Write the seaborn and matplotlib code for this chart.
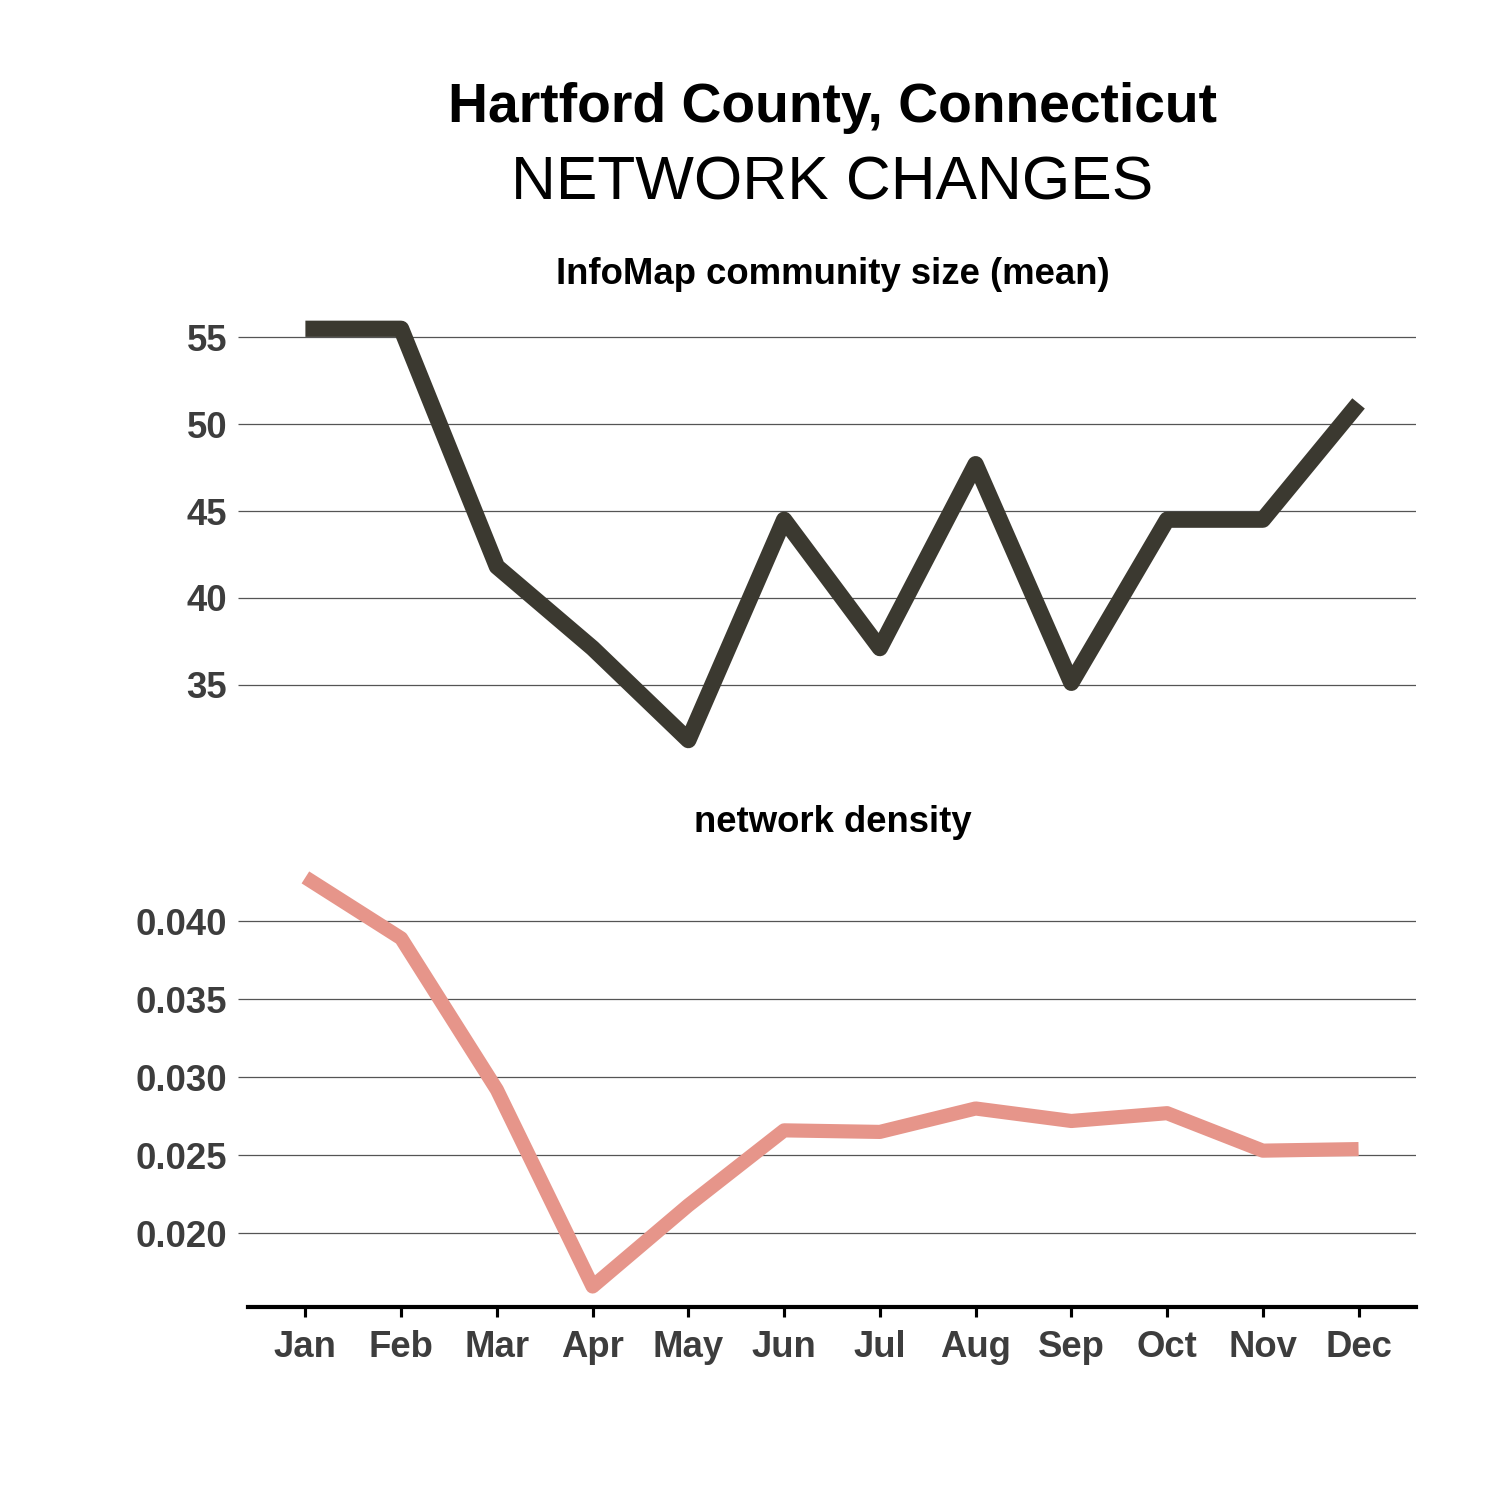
import numpy as np
import pandas as pd
import seaborn as sns
import matplotlib.pyplot as plt

months = ['Jan', 'Feb', 'Mar', 'Apr', 'May', 'Jun', 'Jul', 'Aug', 'Sep', 'Oct', 'Nov', 'Dec']
community_size = [55.5, 55.5, 41.8, 37.1, 31.8, 44.5, 37.1, 47.7, 35.1, 44.5, 44.5, 51.2]
density = [0.0428, 0.0389, 0.0292, 0.0166, 0.0218, 0.0266, 0.0265, 0.0280, 0.0272, 0.0277, 0.0253, 0.0254]
size_ticks = [35, 40, 45, 50, 55]
density_ticks = [0.020, 0.025, 0.030, 0.035, 0.040]

sns.set_style("white")
plt.rcParams['font.family'] = ['Liberation Sans', 'DejaVu Sans']

df = pd.DataFrame({'month': months, 'pos': np.arange(len(months)),
                   'size': community_size, 'density': density})

fig = plt.figure(figsize=(10, 10), dpi=150)
ax1 = fig.add_axes([0.1653, 0.4927, 0.7787, 0.302])
ax2 = fig.add_axes([0.1653, 0.1287, 0.7787, 0.300])

tick_col = '#3d3d3d'
grid_col = '#555555'

sns.lineplot(data=df, x='pos', y='size', ax=ax1, color='#3b3930', linewidth=7.8,
             solid_capstyle='butt', solid_joinstyle='round')
sns.lineplot(data=df, x='pos', y='density', ax=ax2, color='#e6958a', linewidth=6.8,
             solid_capstyle='butt', solid_joinstyle='round')

for ax, ticks in [(ax1, size_ticks), (ax2, density_ticks)]:
    ax.set_xlim(-0.6, 11.6)
    ax.set_yticks(ticks)
    ax.grid(axis='y', color=grid_col, linewidth=0.6)
    ax.set_axisbelow(True)
    for s in ['top', 'right', 'left']:
        ax.spines[s].set_visible(False)
    ax.tick_params(axis='y', left=True, length=5, width=0.6, color=grid_col, pad=5,
                   labelsize=17.5, labelcolor=tick_col)
    ax.set_xlabel('')
    ax.set_ylabel('')
    for lab in ax.get_yticklabels():
        lab.set_fontweight('bold')

ax1.set_ylim(30.6, 56.7)
ax1.spines['bottom'].set_visible(False)
ax1.set_xticks([])

ax2.set_ylim(0.01529, 0.04411)
ax2.set_yticklabels([f'{t:.3f}' for t in density_ticks], fontweight='bold')
ax2.spines['bottom'].set_color('black')
ax2.spines['bottom'].set_linewidth(2)
ax2.set_xticks(df['pos'])
ax2.set_xticklabels(months, fontweight='bold')
ax2.tick_params(axis='x', bottom=True, length=5, width=1.5, color='black', pad=6,
                labelsize=17.5, labelcolor=tick_col)

fig.text(0.555, 1 - 108 / 1500, 'Hartford County, Connecticut', ha='center', va='center',
         fontsize=26.5, fontweight='bold', color='black')
fig.text(0.555, 1 - 184 / 1500, 'NETWORK CHANGES', ha='center', va='center',
         fontsize=29.8, color='black')
fig.text(0.555, 1 - 275 / 1500, 'InfoMap community size (mean)', ha='center', va='center',
         fontsize=17.5, fontweight='bold', color='black')
fig.text(0.555, 1 - 823 / 1500, 'network density', ha='center', va='center',
         fontsize=17.5, fontweight='bold', color='black')

fig.savefig('out.png', dpi=150)
